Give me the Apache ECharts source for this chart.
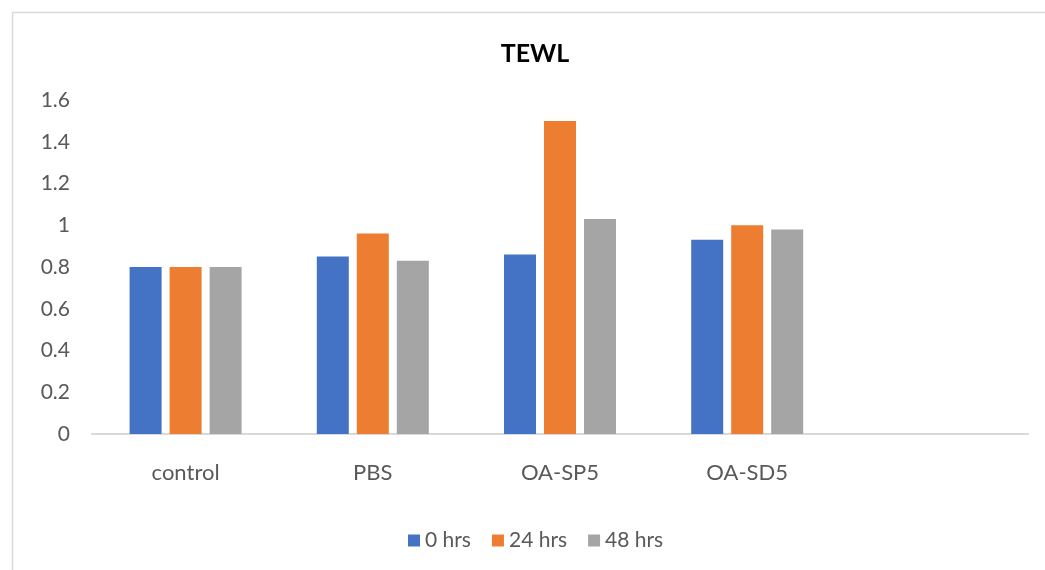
<!DOCTYPE html>
<html>
<head>
<meta charset="utf-8">
<script src="https://cdn.jsdelivr.net/npm/echarts@6/dist/echarts.min.js"></script>
<style>
  html, body { margin: 0; padding: 0; background: #fff; }
  #chart { width: 1045px; height: 570px; }
</style>
</head>
<body>
<div id="chart"></div>
<script>
const categories = ['control', 'PBS', 'OA-SP5', 'OA-SD5', '']
const hrs0 = [0.8, 0.85, 0.86, 0.93]
const hrs24 = [0.8, 0.96, 1.5, 1.0]
const hrs48 = [0.8, 0.83, 1.03, 0.98]
const seriesNames = ['0 hrs', '24 hrs', '48 hrs']
const colors = ['#4472C4', '#ED7D31', '#A5A5A5']

const font = 'Lato, "Open Sans", sans-serif'

const chart = echarts.init(document.getElementById('chart'))

const option = {
    color: colors,
    animation: false,
    graphic: [
        {
            type: 'rect',
            shape: { x: 12.5, y: 12.5, width: 1100, height: 600 },
            style: { fill: 'none', stroke: '#d9d9d9', lineWidth: 1.5 },
            silent: true
        }
    ],
    title: {
        text: 'TEWL',
        left: 530,
        top: 36,
        textAlign: 'center',
        textStyle: { fontFamily: font, fontSize: 25, fontWeight: 'bold', color: '#000' }
    },
    legend: {
        data: seriesNames,
        left: 403,
        top: 525,
        itemWidth: 12,
        itemHeight: 12,
        itemGap: 21,
        icon: 'rect',
        textStyle: { fontFamily: font, fontSize: 21, color: '#595959' }
    },
    grid: { left: 92, right: 17, top: 100, bottom: 136 },
    xAxis: {
        type: 'category',
        data: categories,
        axisTick: { show: false },
        axisLine: { lineStyle: { color: '#d9d9d9', width: 2 } },
        axisLabel: { margin: 28, fontFamily: font, fontSize: 22, color: '#595959' }
    },
    yAxis: {
        type: 'value',
        min: 0,
        max: 1.6,
        interval: 0.2,
        splitLine: { show: false },
        axisLine: { show: false },
        axisTick: { show: false },
        axisLabel: { margin: 22, fontFamily: font, fontSize: 21, color: '#595959' }
    },
    series: [
        { name: seriesNames[0], type: 'bar', data: hrs0, barWidth: 32, barGap: '25%' },
        { name: seriesNames[1], type: 'bar', data: hrs24, barWidth: 32, barGap: '25%' },
        { name: seriesNames[2], type: 'bar', data: hrs48, barWidth: 32, barGap: '25%' }
    ]
}

chart.setOption(option)
</script>
</body>
</html>
